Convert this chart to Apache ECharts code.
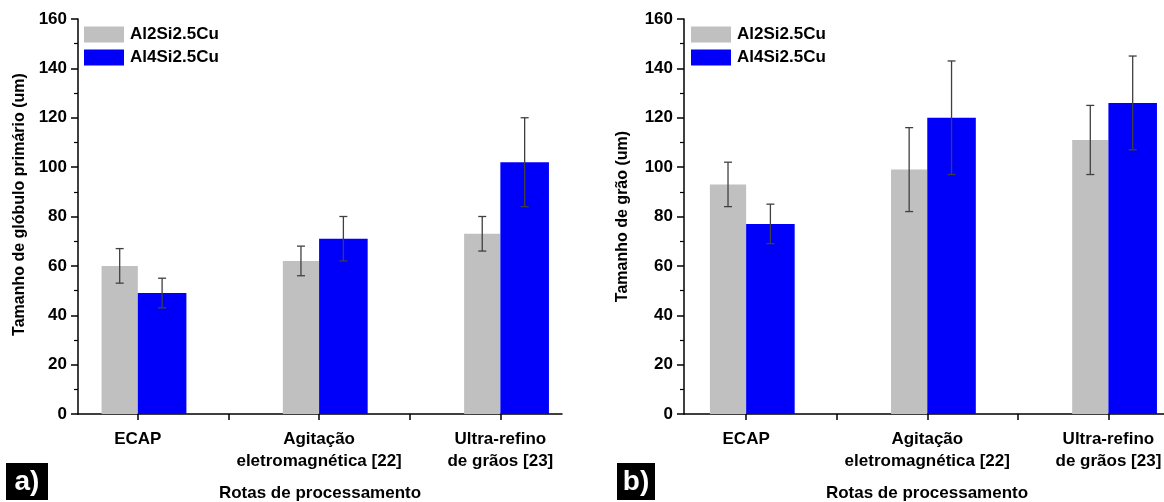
<!DOCTYPE html>
<html>
<head>
<meta charset="utf-8">
<script src="https://cdn.jsdelivr.net/npm/echarts@6/dist/echarts.min.js"></script>
<style>html,body{margin:0;padding:0;background:#fff;}#c{width:1164px;height:502px;}</style>
</head>
<body>
<div id="c"></div>
<script>
// ---- data ----
const categories = ['ECAP', 'Agitação\neletromagnética [22]', 'Ultra-refino\nde grãos [23]'];
const seriesNames = ['Al2Si2.5Cu', 'Al4Si2.5Cu'];
// panel a) primary globule size
const aAl2 = [60, 62, 73];
const aAl2Err = [7, 6, 7];
const aAl4 = [49, 71, 102];
const aAl4Err = [6, 9, 18];
// panel b) grain size
const bAl2 = [93, 99, 111];
const bAl2Err = [9, 17, 14];
const bAl4 = [77, 120, 126];
const bAl4Err = [8, 23, 19];
const yTicks = [0, 20, 40, 60, 80, 100, 120, 140, 160];

const FONT = 'Liberation Sans, Arial, sans-serif';
const GRAY = '#c0c0c0', BLUE = '#0000fa', ERR = '#404040';
const catPos = categories.map((_, i) => i + 1);
const midPos = catPos.slice(0, -1).map(p => p + 0.5);
const tickPos = catPos.concat(midPos).sort((a, b) => a - b);

function barItem(left, right, color) {
  return function (params, api) {
    const c = api.value(0), v = api.value(1);
    const p0 = api.coord([c + left, 0]);
    const p1 = api.coord([c + right, v]);
    return {
      type: 'rect',
      shape: { x: p0[0], y: p1[1], width: p1[0] - p0[0], height: p0[1] - p1[1] },
      style: { fill: color }
    };
  };
}
function errItem(left, right) {
  return function (params, api) {
    const c = api.value(0) + (left + right) / 2, v = api.value(1), e = api.value(2);
    const top = api.coord([c, v + e]);
    const bot = api.coord([c, v - e]);
    const x = top[0], cw = 4;
    const st = { stroke: ERR, lineWidth: 1.3 };
    return {
      type: 'group',
      children: [
        { type: 'line', shape: { x1: x, y1: top[1], x2: x, y2: bot[1] }, style: st },
        { type: 'line', shape: { x1: x - cw, y1: top[1], x2: x + cw, y2: top[1] }, style: st },
        { type: 'line', shape: { x1: x - cw, y1: bot[1], x2: x + cw, y2: bot[1] }, style: st }
      ]
    };
  };
}
const G_L = -0.2, G_R = 0, B_L = 0, B_R = 0.268;

function series(idx, al2, al2e, al4, al4e) {
  const d2 = catPos.map((p, i) => [p, al2[i], al2e[i]]);
  const d4 = catPos.map((p, i) => [p, al4[i], al4e[i]]);
  return [
    { type: 'custom', name: seriesNames[0], xAxisIndex: idx, yAxisIndex: idx, data: d2,
      itemStyle: { color: GRAY }, renderItem: barItem(G_L, G_R, GRAY), encode: { x: 0, y: 1 }, z: 2 },
    { type: 'custom', name: seriesNames[1], xAxisIndex: idx, yAxisIndex: idx, data: d4,
      itemStyle: { color: BLUE }, renderItem: barItem(B_L, B_R, BLUE), encode: { x: 0, y: 1 }, z: 2 },
    { type: 'custom', xAxisIndex: idx, yAxisIndex: idx, data: d2,
      renderItem: errItem(G_L, G_R), encode: { x: 0, y: 1 }, z: 5 },
    { type: 'custom', xAxisIndex: idx, yAxisIndex: idx, data: d4,
      renderItem: errItem(B_L, B_R), encode: { x: 0, y: 1 }, z: 5 }
  ];
}

function xAxis(idx, min, max) {
  return {
    type: 'value', gridIndex: idx, min: min, max: max,
    axisLine: { show: true, onZero: false, lineStyle: { color: '#000', width: 1.5 } },
    axisTick: { show: true, customValues: tickPos, length: 6, lineStyle: { color: '#000', width: 1.5 } },
    axisLabel: { customValues: catPos, formatter: v => categories[Math.round(v) - 1],
      fontFamily: FONT, fontSize: 17, fontWeight: 'bold', color: '#000', margin: 14, lineHeight: 22 },
    splitLine: { show: false },
    name: 'Rotas de processamento', nameLocation: 'middle', nameGap: 71,
    nameTextStyle: { fontFamily: FONT, fontSize: 17, fontWeight: 'bold', color: '#000' }
  };
}
function yAxis(idx, name, gap, pad) {
  return {
    type: 'value', gridIndex: idx, min: yTicks[0], max: yTicks[yTicks.length - 1],
    interval: yTicks[1] - yTicks[0],
    axisLine: { show: true, lineStyle: { color: '#000', width: 1.5 } },
    axisTick: { show: true, length: 7, lineStyle: { color: '#000', width: 1.5 } },
    minorTick: { show: true, splitNumber: 2, length: 4, lineStyle: { color: '#000', width: 1.2 } },
    axisLabel: { fontFamily: FONT, fontSize: 17, fontWeight: 'bold', color: '#000', margin: 11 },
    splitLine: { show: false },
    name: name, nameLocation: 'middle', nameGap: gap,
    nameTextStyle: { fontFamily: FONT, fontSize: 16, fontWeight: 'bold', color: '#000', padding: pad }
  };
}
function legend(left) {
  return {
    data: seriesNames, orient: 'vertical', left: left, top: 21, itemGap: 6,
    itemWidth: 40, itemHeight: 16, icon: 'rect', selectedMode: false,
    textStyle: { fontFamily: FONT, fontSize: 17, fontWeight: 'bold', color: '#000', padding: [0, 0, 0, 1] }
  };
}
function panelLabel(x, text, w) {
  return {
    type: 'group', left: x, top: 463,
    children: [
      { type: 'rect', shape: { x: 0, y: 0, width: w, height: 37 }, style: { fill: '#000' } },
      { type: 'text', x: w / 2, y: 19, style: { text: text, fill: '#fff', font: 'bold 28px ' + FONT, align: 'center', verticalAlign: 'middle' } }
    ]
  };
}

const chart = echarts.init(document.getElementById('c'), null, { renderer: 'canvas' });
chart.setOption({
  animation: false,
  backgroundColor: '#fff',
  grid: [
    { left: 78, top: 19, width: 484, height: 395, outerBoundsMode: 'none', containLabel: false },
    { left: 684, top: 19, width: 486, height: 395, outerBoundsMode: 'none', containLabel: false }
  ],
  xAxis: [xAxis(0, 0.67, 3.34), xAxis(1, 0.657, 3.34)],
  yAxis: [yAxis(0, 'Tamanho de glóbulo primário (um)', 50, [0, 0, 0, 24]), yAxis(1, 'Tamanho de grão (um)', 53, [0, 0, 0, 0])],
  legend: [legend(79), legend(686)],
  graphic: [panelLabel(6, 'a)', 42), panelLabel(617, 'b)', 38)],
  series: series(0, aAl2, aAl2Err, aAl4, aAl4Err).concat(series(1, bAl2, bAl2Err, bAl4, bAl4Err))
});
</script>
</body>
</html>
